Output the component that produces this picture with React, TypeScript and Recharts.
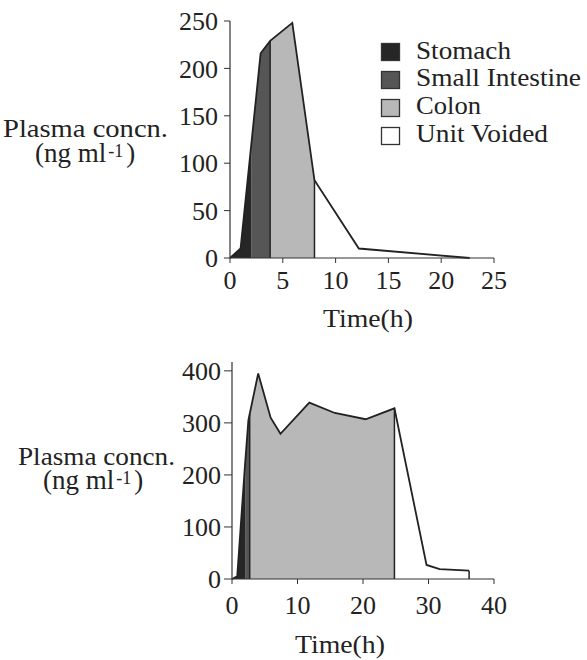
import React from 'react';
import { ComposedChart, Area, Line, XAxis, YAxis, ReferenceLine, Legend } from 'recharts';

// Legend / regions
const regionNames = ['Stomach', 'Small Intestine', 'Colon', 'Unit Voided'];
const regionKeys = ['stomach', 'small', 'colon', 'voided'];
const regionFills = ['#262626', '#565656', '#b8b8b8', '#ffffff'];

// Top panel
const topTimes = [0, 1.0, 2.0, 2.9, 3.8, 5.9, 8.0, 12.2, 22.7];
const topConc = [0, 10, 118, 216, 229, 248, 82, 10, 0];
const topBounds = [2.0, 3.8, 8.0];
const topXTicks = [0, 5, 10, 15, 20, 25];
const topYTicks = [0, 50, 100, 150, 200, 250];

// Bottom panel
const botTimes = [0, 0.8, 2.0, 2.5, 2.7, 4.0, 5.9, 7.4, 11.8, 15.7, 20.4, 24.8, 29.7, 31.7, 36.2];
const botConc = [0, 5, 222, 305, 317, 395, 310, 279, 339, 319, 307, 328, 27, 19, 16];
const botBounds = [2.0, 2.7, 24.8];
const botXTicks = [0, 10, 20, 30, 40];
const botYTicks = [0, 100, 200, 300, 400];

const FONT = '"Liberation Serif", "Times New Roman", serif';
const INK = '#222';

function buildRows(times: number[], conc: number[], b: number[]) {
  return times.map((t, i) => {
    const v = conc[i];
    return {
      t,
      conc: v,
      stomach: t <= b[0] ? v : null,
      small: t >= b[0] && t <= b[1] ? v : null,
      colon: t >= b[1] && t <= b[2] ? v : null,
      voided: t >= b[2] ? v : null,
    };
  });
}

const legendLens = [95, 165, 65, 132];

const LegendBox = () => (
  <svg width={210} height={120} style={{ display: 'block' }}>
    {regionNames.map((n, i) => (
      <g key={n}>
        <rect x={2.5} y={8.5 + i * 28} width={18} height={17} fill={regionFills[i]} stroke="#333" strokeWidth={1.3} />
        <text
          x={37}
          y={23.5 + i * 27.8}
          fontFamily={FONT}
          fontSize={26}
          fill={INK}
          textLength={legendLens[i]}
          lengthAdjust="spacingAndGlyphs"
        >
          {n}
        </text>
      </g>
    ))}
  </svg>
);

type PanelProps = {
  times: number[];
  conc: number[];
  bounds: number[];
  xTicks: number[];
  yTicks: number[];
  xMax: number;
  yMax: number;
  top: number;
  plotLeft: number;
  plotTop: number;
  xAxisHeight: number;
  yTickSize: number;
  yTickMargin: number;
  xTickMargin: number;
  legend?: boolean;
};

function Panel(p: PanelProps) {
  const rows = buildRows(p.times, p.conc, p.bounds);
  const valAt = (t: number) => p.conc[p.times.indexOf(t)];
  const lastT = p.times[p.times.length - 1];
  const lastV = p.conc[p.conc.length - 1];
  const vlines = [p.bounds[1], p.bounds[2]];
  return (
    <div style={{ position: 'absolute', left: 0, top: p.top }}>
      <ComposedChart
        width={587}
        height={330}
        data={rows}
        margin={{ top: p.plotTop, right: 93, left: 0, bottom: 0 }}
      >
        <XAxis
          type="number"
          dataKey="t"
          domain={[0, p.xMax]}
          ticks={p.xTicks}
          tickSize={5}
          tickMargin={p.xTickMargin}
          height={p.xAxisHeight}
          stroke="#333"
          tick={{ fontFamily: FONT, fontSize: 26, fill: INK }}
          tickLine={{ stroke: '#333' }}
          axisLine={{ stroke: '#333', strokeWidth: 1.2 }}
        />
        <YAxis
          type="number"
          domain={[0, p.yMax]}
          ticks={p.yTicks}
          width={p.plotLeft}
          tickSize={p.yTickSize}
          tickMargin={p.yTickMargin}
          stroke="#333"
          tick={{ fontFamily: FONT, fontSize: 26, fill: INK }}
          tickLine={{ stroke: '#333' }}
          axisLine={{ stroke: '#333', strokeWidth: 1.2 }}
        />
        {regionKeys.map((k, i) => (
          <Area
            key={k}
            type="linear"
            dataKey={k}
            name={regionNames[i]}
            fill={regionFills[i]}
            fillOpacity={1}
            stroke="none"
            isAnimationActive={false}
            connectNulls={false}
            dot={false}
            activeDot={false}
          />
        ))}
        <Line
          type="linear"
          dataKey="conc"
          stroke={INK}
          strokeWidth={1.8}
          dot={false}
          activeDot={false}
          legendType="none"
          isAnimationActive={false}
        />
        {vlines.map((b) => (
          <ReferenceLine
            key={b}
            segment={[{ x: b, y: 0 }, { x: b, y: valAt(b) }]}
            stroke={INK}
            strokeWidth={1.5}
          />
        ))}
        {lastV > 0 && (
          <ReferenceLine
            segment={[{ x: lastT, y: 0 }, { x: lastT, y: lastV }]}
            stroke={INK}
            strokeWidth={1.5}
          />
        )}
        {p.legend && (
          <Legend
            layout="vertical"
            align="center"
            verticalAlign="middle"
            wrapperStyle={{ left: 379, top: 35, width: 210 }}
            content={() => <LegendBox />}
          />
        )}
      </ComposedChart>
    </div>
  );
}

export default function App() {
  return (
    <div style={{ position: 'absolute', left: 0, top: 0, width: 587, height: 660, background: '#fff', overflow: 'hidden' }}>
      <Panel
        times={topTimes}
        conc={topConc}
        bounds={topBounds}
        xTicks={topXTicks}
        yTicks={topYTicks}
        xMax={25}
        yMax={250}
        top={0}
        plotLeft={230}
        plotTop={21}
        xAxisHeight={72}
        yTickSize={6}
        yTickMargin={6}
        xTickMargin={8}
        legend
      />
      <Panel
        times={botTimes}
        conc={botConc}
        bounds={botBounds}
        xTicks={botXTicks}
        yTicks={botYTicks}
        xMax={40}
        yMax={417}
        top={330}
        plotLeft={232}
        plotTop={32}
        xAxisHeight={81}
        yTickSize={8}
        yTickMargin={3}
        xTickMargin={12}
      />
      <svg width={587} height={660} style={{ position: 'absolute', left: 0, top: 0, pointerEvents: 'none' }}>
        <g fontFamily={FONT} fill={INK} fontSize={26}>
          <text x={3} y={137} textLength={165} lengthAdjust="spacingAndGlyphs">Plasma concn.</text>
          <text x={35} y={162} fontSize={27}>
            (ng ml<tspan dx={2} dy={-5} fontSize={18}>-1</tspan><tspan dx={3} dy={5}>)</tspan>
          </text>
          <text x={368} y={327} textAnchor="middle" textLength={90} lengthAdjust="spacingAndGlyphs">Time(h)</text>

          <text x={18} y={465} textLength={157} lengthAdjust="spacingAndGlyphs">Plasma concn.</text>
          <text x={43} y={489} fontSize={27}>
            (ng ml<tspan dx={2} dy={-5} fontSize={18}>-1</tspan><tspan dx={3} dy={5}>)</tspan>
          </text>
          <text x={340} y={653} textAnchor="middle" textLength={90} lengthAdjust="spacingAndGlyphs">Time(h)</text>
        </g>
      </svg>
    </div>
  );
}
